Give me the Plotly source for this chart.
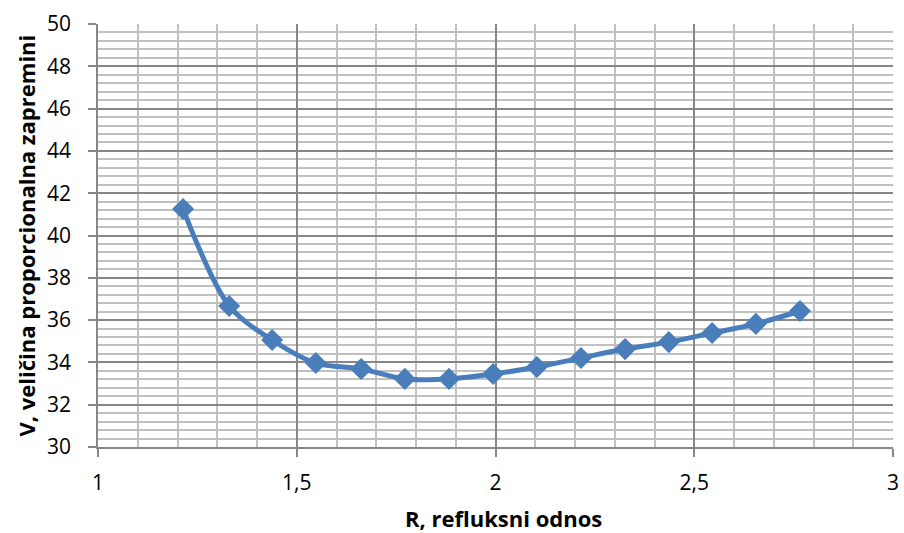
import plotly.graph_objects as go

R = [1.214, 1.330, 1.438, 1.548, 1.662, 1.772, 1.883, 1.994, 2.104, 2.215, 2.326, 2.436, 2.545, 2.655, 2.766]
V = [41.25, 36.67, 35.06, 33.97, 33.69, 33.22, 33.22, 33.45, 33.78, 34.21, 34.63, 34.96, 35.39, 35.82, 36.43]

x_title = "R, refluksni odnos"
y_title = "V, veličina proporcionalna zapremini"

FONT = "Open Sans, sans-serif"
MAJOR = "#878787"
MINOR = "#c0c0c0"
BLUE = "#4a7ebb"

fig = go.Figure()
fig.add_trace(go.Scatter(
    x=R, y=V, mode="lines+markers",
    line=dict(color=BLUE, width=5, shape="spline", smoothing=0.9),
    marker=dict(symbol="diamond", size=17, color=BLUE),
    showlegend=False,
))

fig.update_layout(
    width=904, height=533,
    margin=dict(l=98, r=11, t=24, b=86),
    paper_bgcolor="white", plot_bgcolor="white",
    separators=",.",
    font=dict(family=FONT, size=21, color="#000000"),
)
fig.update_xaxes(
    range=[1, 3], dtick=0.5, tick0=1,
    showgrid=True, gridcolor=MAJOR, gridwidth=1.5,
    minor=dict(dtick=0.1, showgrid=True, gridcolor=MINOR, gridwidth=2, ticks=""),
    ticks="outside", ticklen=8, tickcolor=MAJOR, tickwidth=1.5,
    showline=True, linecolor=MAJOR, linewidth=1.5,
    zeroline=False, automargin=False,
    tickfont=dict(size=21), ticklabelstandoff=8,
)
fig.update_yaxes(
    range=[30, 50], dtick=2, tick0=30,
    showgrid=True, gridcolor=MAJOR, gridwidth=1.5,
    minor=dict(dtick=0.4, showgrid=True, gridcolor=MINOR, gridwidth=2, ticks=""),
    ticks="outside", ticklen=8, tickcolor=MAJOR, tickwidth=1.5,
    showline=True, linecolor=MAJOR, linewidth=1.5,
    zeroline=False, automargin=False,
    tickfont=dict(size=21), ticklabelstandoff=13,
)

fig.add_annotation(
    text="<b>" + x_title + "</b>", xref="paper", yref="paper",
    x=0.5, y=0, xanchor="center", yanchor="middle",
    xshift=8, yshift=-71, showarrow=False, borderpad=0,
    font=dict(family=FONT, size=22, color="#000000"),
)
fig.add_annotation(
    text="<b>" + y_title + "</b>", xref="paper", yref="paper",
    x=0, y=0.5, xanchor="center", yanchor="middle", textangle=-90,
    xshift=-73, yshift=0, showarrow=False, borderpad=0,
    font=dict(family=FONT, size=22, color="#000000"),
)

fig.write_html("out.html", config={"displayModeBar": False},
               post_script="document.body.style.margin='0';")
